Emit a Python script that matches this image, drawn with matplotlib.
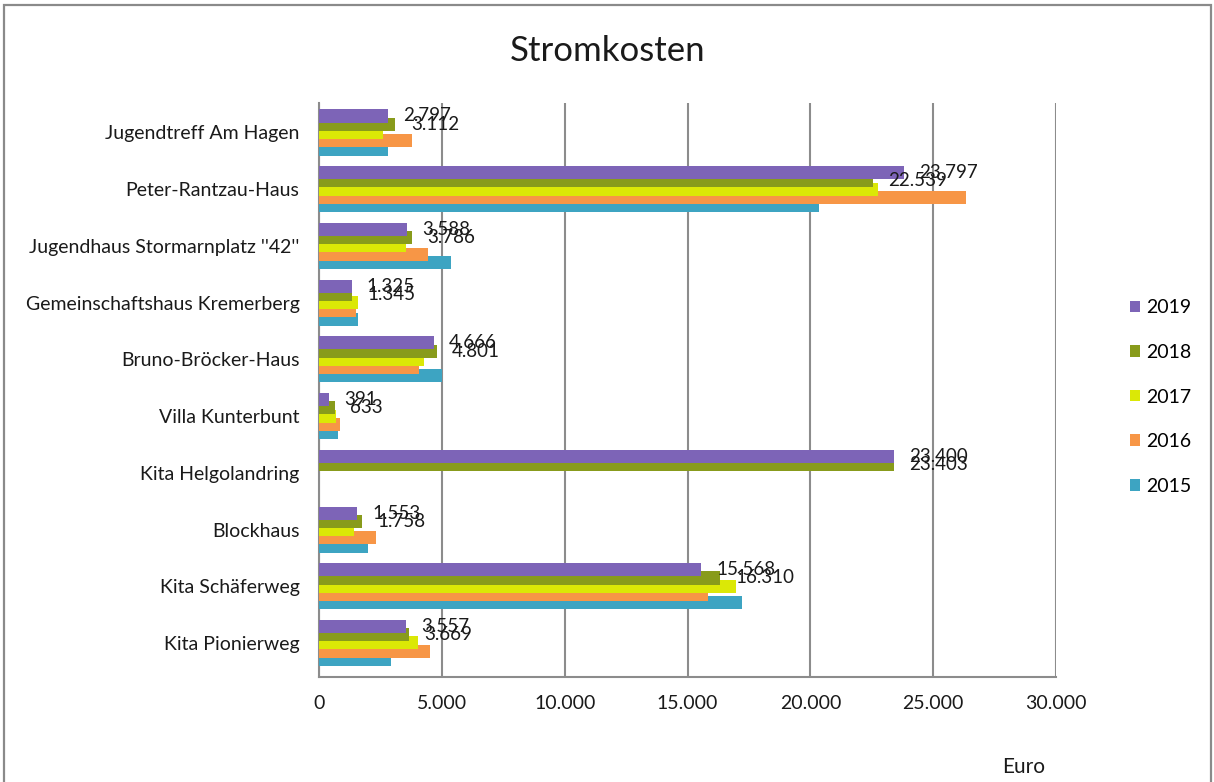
import numpy as np
import matplotlib
matplotlib.use("Agg")
import matplotlib.pyplot as plt
from matplotlib.ticker import FuncFormatter, MultipleLocator
from matplotlib.patches import Rectangle

plt.rcParams["font.family"] = ["Lato", "DejaVu Sans"]

# Locations, listed from top to bottom
categories = [
    "Jugendtreff Am Hagen",
    "Peter-Rantzau-Haus",
    "Jugendhaus Stormarnplatz ''42''",
    "Gemeinschaftshaus Kremerberg",
    "Bruno-Bröcker-Haus",
    "Villa Kunterbunt",
    "Kita Helgolandring",
    "Blockhaus",
    "Kita Schäferweg",
    "Kita Pionierweg",
]

# Electricity costs in Euro per year
costs_2019 = [2797, 23797, 3588, 1325, 4666, 391, 23400, 1553, 15568, 3557]
costs_2018 = [3112, 22539, 3786, 1345, 4801, 633, 23403, 1758, 16310, 3669]
costs_2017 = [2600, 22750, 3540, 1590, 4270, 690, None, 1420, 16980, 4020]
costs_2016 = [3785, 26330, 4440, 1510, 4070, 850, None, 2300, 15850, 4520]
costs_2015 = [2810, 20350, 5370, 1570, 5010, 770, None, 2010, 17220, 2950]

years = ["2019", "2018", "2017", "2016", "2015"]
series = [costs_2019, costs_2018, costs_2017, costs_2016, costs_2015]
colors = ["#7D64B7", "#889B1B", "#DBE806", "#F79646", "#3DA4C2"]
labelled_years = {"2019", "2018"}

W, H = 1214, 782
fig = plt.figure(figsize=(W / 100, H / 100), dpi=100)

# outer chart frame
fig.patches.append(Rectangle((3.5 / W, -0.05), (1211 - 3.5) / W, 1.05 - 5.5 / H,
                             transform=fig.transFigure, fill=False,
                             edgecolor="#8A8A8A", linewidth=1.6))

ax = fig.add_axes([319 / W, 1 - 677 / H, (1056 - 319) / W, (677 - 103) / H])

y = np.arange(len(categories))
step = 0.1455
bar_h = 0.23

def fmt(v, pos=None):
    return f"{v:,.0f}".replace(",", ".")

handles = {}
# draw 2015 first so later years sit on top
for k in range(len(years) - 1, -1, -1):
    vals = np.array([np.nan if v is None else v for v in series[k]], dtype=float)
    pos = y + (k - 2) * step
    bars = ax.barh(pos, np.nan_to_num(vals), height=bar_h, color=colors[k],
                   zorder=3 + (4 - k), label=years[k])
    handles[years[k]] = bars
    if years[k] in labelled_years:
        for p, v in zip(pos, vals):
            if np.isnan(v):
                continue
            ax.annotate(fmt(v), (v, p), xytext=(11, 0), textcoords="offset points",
                        ha="left", va="center", fontsize=13.5, color="#1a1a1a",
                        zorder=10)

ax.set_xlim(0, 30000)
ax.set_ylim(9.60, -0.52)
ax.xaxis.set_major_locator(MultipleLocator(5000))
ax.xaxis.set_major_formatter(FuncFormatter(fmt))
ax.set_yticks(y)
ax.set_yticklabels(categories)
ax.tick_params(axis="x", length=0, pad=13, labelsize=14, colors="#1a1a1a")
ax.tick_params(axis="y", length=0, pad=14, labelsize=14, colors="#1a1a1a")
ax.grid(axis="x", color="#8C8C8C", linewidth=1.5, zorder=1)
ax.set_axisbelow(True)
for side in ("top", "right"):
    ax.spines[side].set_visible(False)
for side in ("left", "bottom"):
    ax.spines[side].set_color("#8C8C8C")
    ax.spines[side].set_linewidth(1.5)

fig.text(608 / W, 1 - 51 / H, "Stromkosten", ha="center", va="center",
         fontsize=25, color="#1a1a1a")
fig.text(1024 / W, 1 - 767 / H, "Euro", ha="center", va="center",
         fontsize=15, color="#1a1a1a")

fig.legend([handles[yv] for yv in years], years, loc="center left",
           bbox_to_anchor=(1120 / W, 1 - 397 / H), frameon=False,
           fontsize=14, handlelength=0.55, handleheight=0.55, handletextpad=0.3,
           labelspacing=1.42, borderpad=0)

fig.savefig("out.png", dpi=100)
